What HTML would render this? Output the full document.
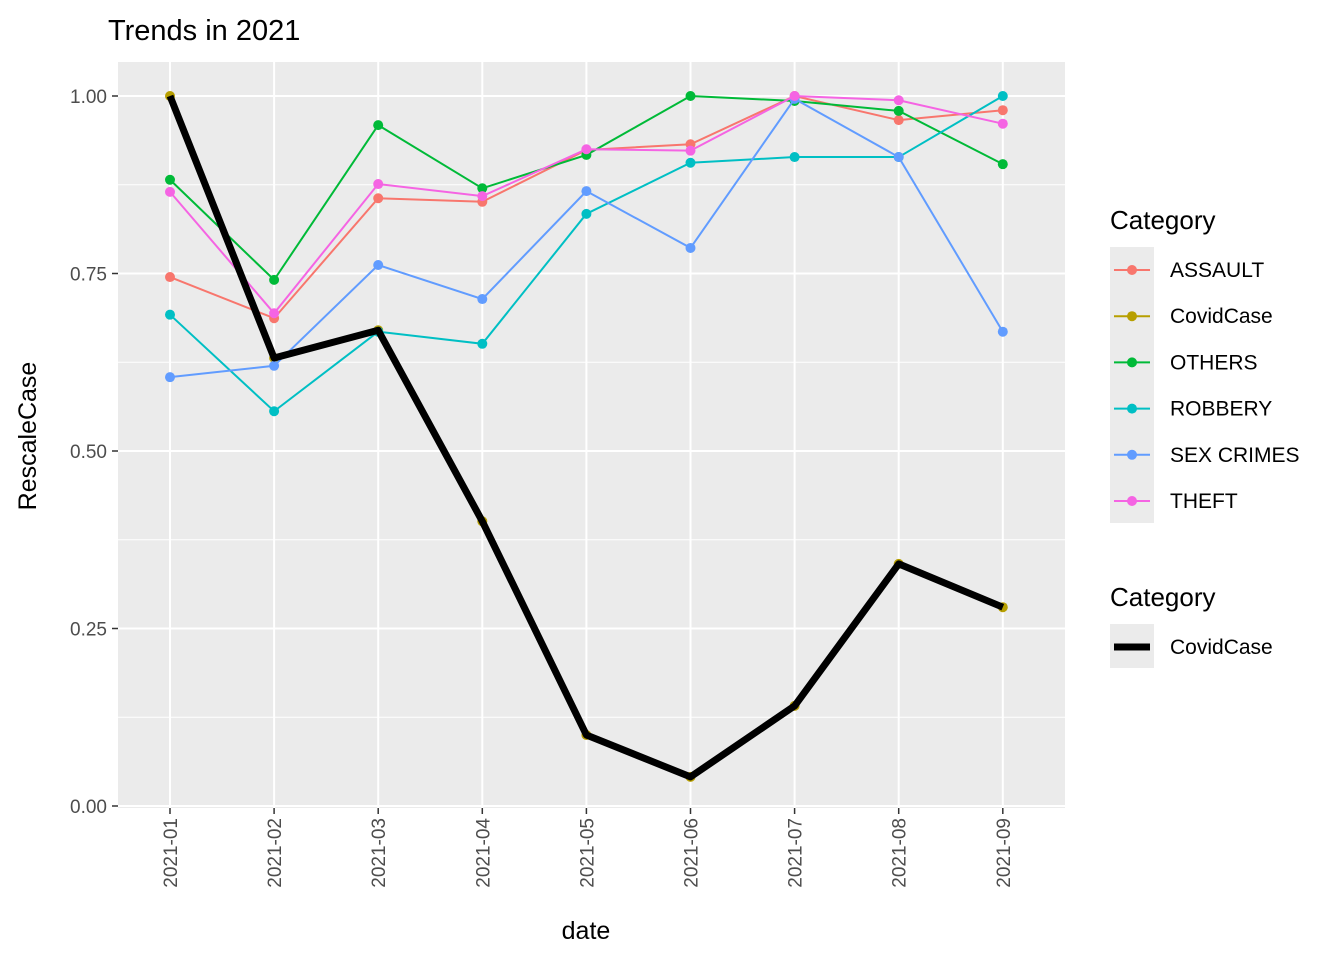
<!DOCTYPE html>
<html><head><meta charset="utf-8"><style>
body{margin:0;background:#fff;font-family:"Liberation Sans",Arial,sans-serif}
</style></head><body>
<svg id="chart" width="1344" height="960" xmlns="http://www.w3.org/2000/svg" font-family="Liberation Sans, Arial, sans-serif">
<text x="108" y="40" font-size="29" fill="#000">Trends in 2021</text>
<rect x="118" y="62" width="947" height="746" fill="#ebebeb"/>
<g id="grid"></g>
<g id="series"></g>
<g id="axes"></g>
<text x="586" y="939" font-size="25" text-anchor="middle">date</text>
<text transform="translate(36,436) rotate(-90)" font-size="25" text-anchor="middle">RescaleCase</text>
<g id="legend"></g>
</svg>
<script>
const categories=["2021-01","2021-02","2021-03","2021-04","2021-05","2021-06","2021-07","2021-08","2021-09"];
const seriesNames=["ASSAULT","CovidCase","OTHERS","ROBBERY","SEX CRIMES","THEFT"];
const seriesColors=["#F8766D","#B79F00","#00BA38","#00BFC4","#619CFF","#F564E3"];
const assault=[0.745,0.687,0.856,0.851,0.924,0.932,1.0,0.966,0.980];
const covid=[1.0,0.631,0.670,0.401,0.100,0.041,0.141,0.341,0.280];
const others=[0.882,0.741,0.959,0.870,0.917,1.0,0.993,0.979,0.904];
const robbery=[0.692,0.556,0.668,0.651,0.834,0.906,0.914,0.914,1.0];
const sexCrimes=[0.604,0.620,0.762,0.714,0.866,0.786,0.996,0.914,0.668];
const theft=[0.865,0.694,0.876,0.859,0.925,0.923,1.0,0.994,0.961];
const yTicks=[0,0.25,0.5,0.75,1.0];
const yTickLabels=["0.00","0.25","0.50","0.75","1.00"];
const allSeries=[assault,covid,others,robbery,sexCrimes,theft];

const NS="http://www.w3.org/2000/svg";
const x=i=>170+i*104.1;
const y=v=>806-v*710;
function mk(tag,attrs,parent){const e=document.createElementNS(NS,tag);for(const k in attrs)e.setAttribute(k,attrs[k]);parent.appendChild(e);return e;}
const grid=document.getElementById('grid'),series=document.getElementById('series'),axes=document.getElementById('axes'),legend=document.getElementById('legend');
for(let i=0;i<yTicks.length-1;i++){const m=(yTicks[i]+yTicks[i+1])/2;
 const l=mk('line',{x1:118,x2:1065,y1:y(m),y2:y(m),stroke:'#fff','stroke-width':1},grid);
 
 }
yTicks.forEach((t,i)=>{
 const l=mk('line',{x1:118,x2:1065,y1:y(t),y2:y(t),stroke:'#fff','stroke-width':2},grid);
 
 
 mk('line',{x1:112,x2:118,y1:y(t),y2:y(t),stroke:'#333','stroke-width':1.5},axes);
 const tx=mk('text',{x:107,y:y(t)+7,'font-size':19,'text-anchor':'end',fill:'#4d4d4d'},axes);
 tx.textContent=yTickLabels[i];
 
 
});
categories.forEach((c,i)=>{
 const l=mk('line',{x1:x(i),x2:x(i),y1:62,y2:808,stroke:'#fff','stroke-width':2},grid);
 
 
 mk('line',{x1:x(i),x2:x(i),y1:808,y2:814,stroke:'#333','stroke-width':1.5},axes);
 const tx=mk('text',{transform:`translate(${x(i)+7},818) rotate(-90)`,'font-size':19,'text-anchor':'end',fill:'#4d4d4d'},axes);
 tx.textContent=c;
 
 
});
allSeries.forEach((d,s)=>{
 const p=mk('polyline',{points:d.map((v,i)=>x(i)+','+y(v)).join(' '),fill:'none',stroke:seriesColors[s],'stroke-width':2},series);
 
 
 d.forEach((v,i)=>{const c=mk('circle',{cx:x(i),cy:y(v),r:5,fill:seriesColors[s]},series);
  
  });
});
const bl=mk('polyline',{points:covid.map((v,i)=>x(i)+','+y(v)).join(' '),fill:'none',stroke:'#000','stroke-width':7,'stroke-linejoin':'round'},series);


let t1=mk('text',{x:1110,y:229,'font-size':26},legend);t1.textContent='Category';


mk('rect',{x:1110,y:247,width:44,height:276,fill:'#ebebeb'},legend);
seriesNames.forEach((n,i)=>{const cy=270+i*46.2;
 mk('line',{x1:1114,x2:1150,y1:cy,y2:cy,stroke:seriesColors[i],'stroke-width':2},legend);
 mk('circle',{cx:1132,cy:cy,r:5,fill:seriesColors[i]},legend);
 const t=mk('text',{x:1170,y:cy+7,'font-size':21},legend);t.textContent=n;
 
 });
let t2=mk('text',{x:1110,y:606,'font-size':26},legend);t2.textContent='Category';


mk('rect',{x:1110,y:624,width:44,height:44,fill:'#ebebeb'},legend);
mk('line',{x1:1114,x2:1150,y1:647,y2:647,stroke:'#000','stroke-width':7},legend);
const t3=mk('text',{x:1170,y:654,'font-size':21},legend);t3.textContent='CovidCase';


</script>
</body></html>
